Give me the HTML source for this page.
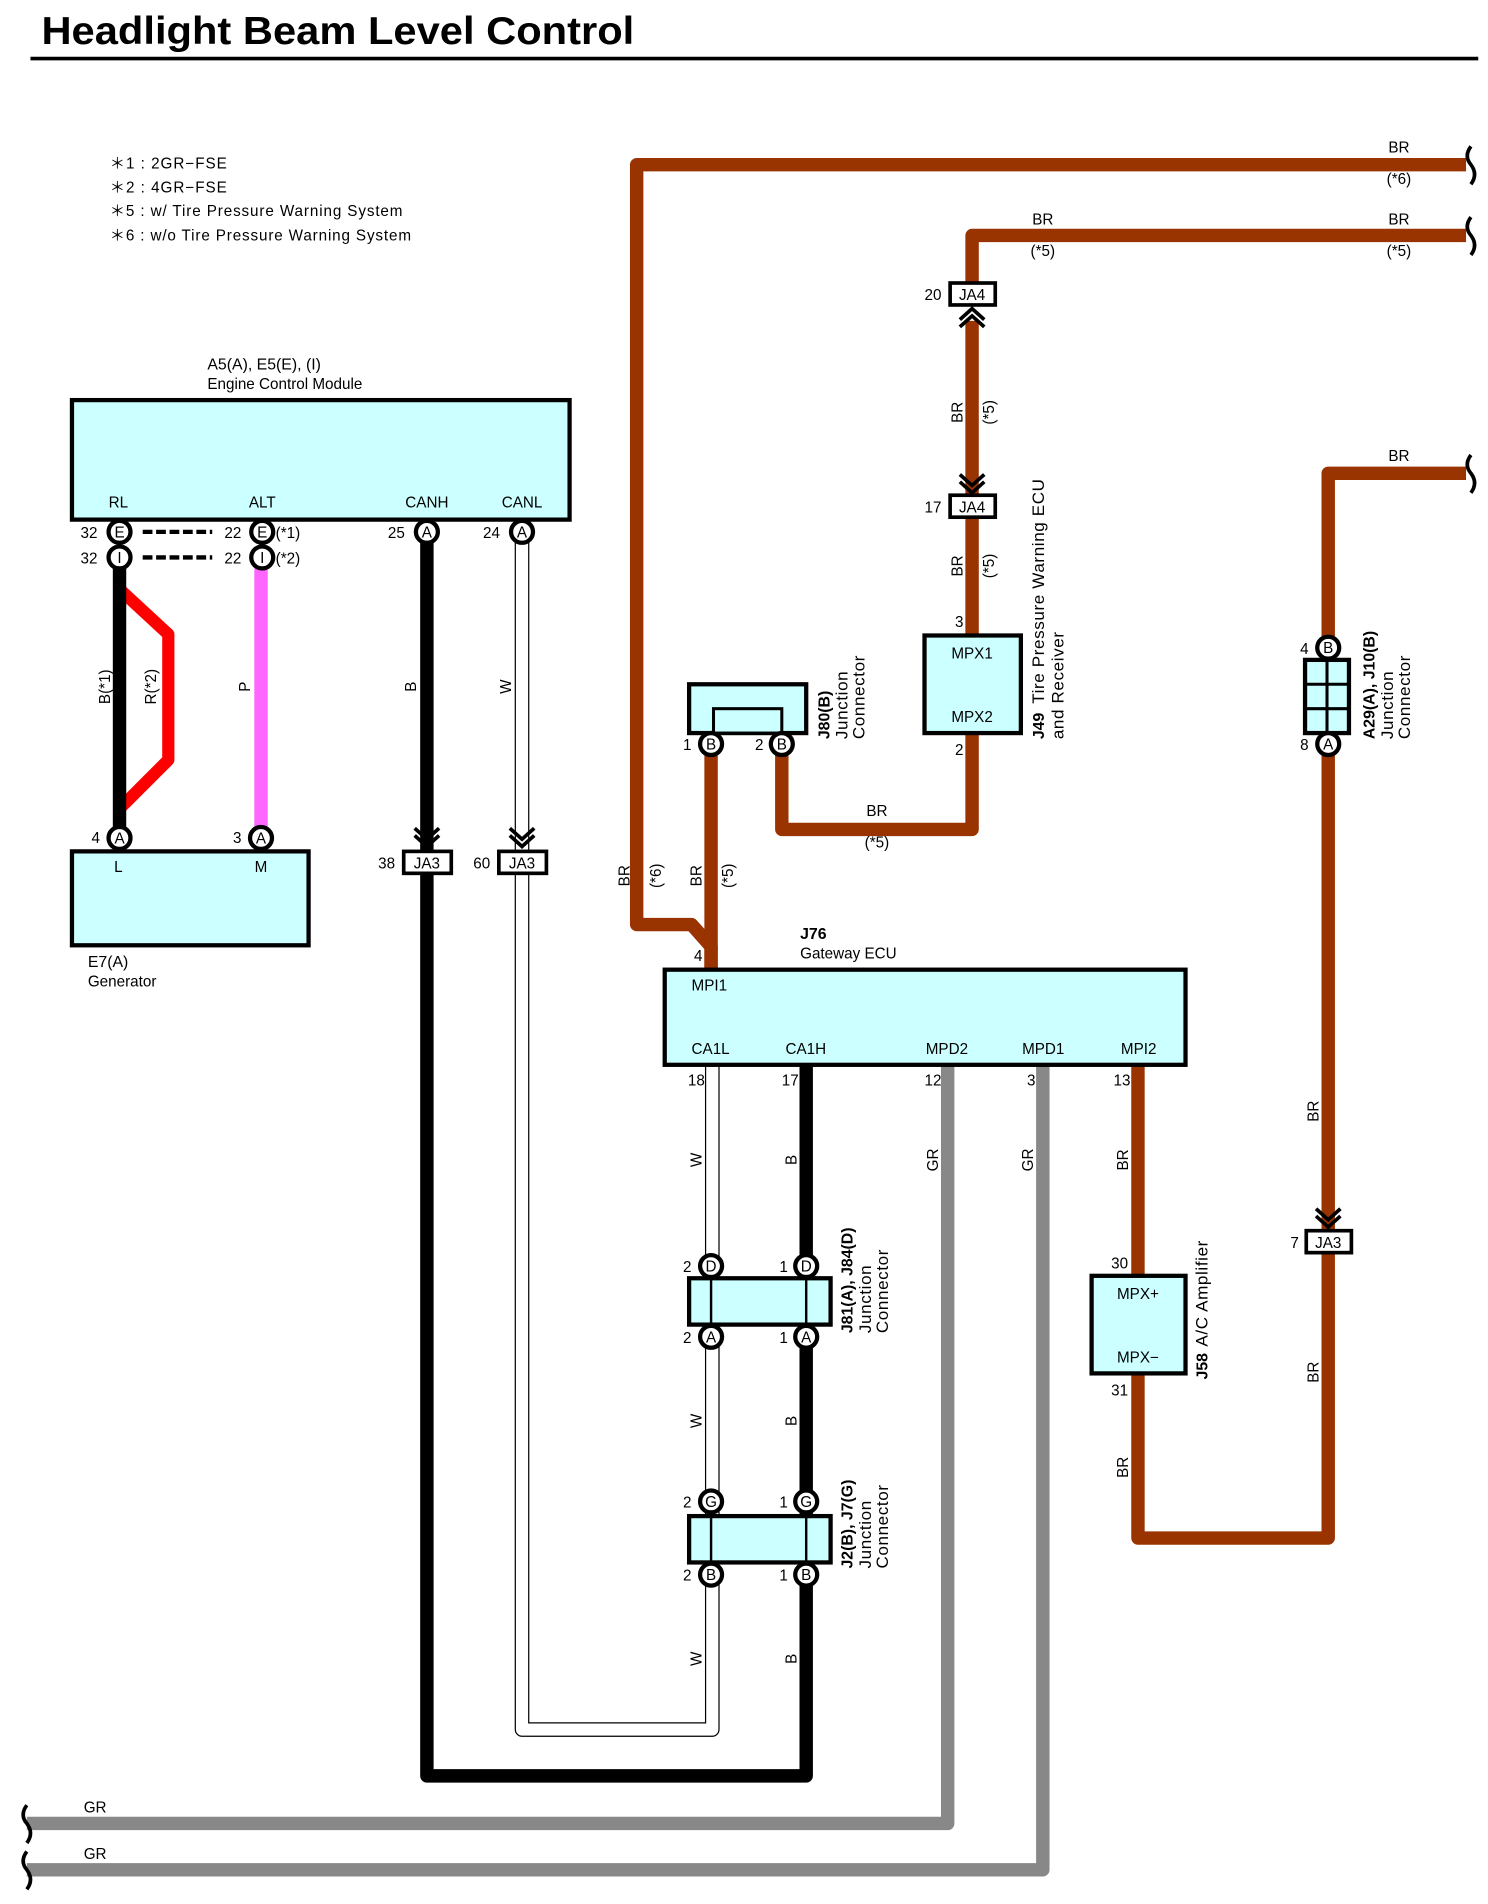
<!DOCTYPE html>
<html><head><meta charset="utf-8"><style>
html,body{margin:0;padding:0;background:#fff;}
svg{display:block;}
text{font-family:"Liberation Sans",sans-serif;font-size:12.5px;fill:#000;}
.b{font-weight:bold;}
.c{text-anchor:middle;}
</style></head><body>
<svg width="1488" height="1904" viewBox="0 0 1220 1561" xmlns="http://www.w3.org/2000/svg">
<defs>
<g id="pin"><circle r="9" fill="#fff" stroke="#000" stroke-width="3.5"/></g>
</defs>
<rect width="1220" height="1561" fill="#fff"/>
<g transform="translate(0,-2)">
<text x="34" y="38" class="b" style="font-size:32px" textLength="486" lengthAdjust="spacingAndGlyphs">Headlight Beam Level Control</text>
<line x1="25" y1="50" x2="1212" y2="50" stroke="#000" stroke-width="3"/>

<g style="font-size:13.5px">
<text x="90" y="140" textLength="96">＊1 : 2GR−FSE</text>
<text x="90" y="160" textLength="96">＊2 : 4GR−FSE</text>
<text x="90" y="179" textLength="240">＊5 : w/ Tire Pressure Warning System</text>
<text x="90" y="199" textLength="247">＊6 : w/o Tire Pressure Warning System</text>
</g>

<g fill="none" stroke-linejoin="round">
<path d="M1202 137 H522 V760 H567 L583 778 V797" stroke="#993300" stroke-width="11"/>
<path d="M1202 195 H797 V252" stroke="#993300" stroke-width="11"/>
<path d="M797 265 V408" stroke="#993300" stroke-width="11"/>
<path d="M797 427 V523" stroke="#993300" stroke-width="11"/>
<path d="M797 603 V682 H641 V612" stroke="#993300" stroke-width="11"/>
<path d="M583 612 V797" stroke="#993300" stroke-width="11"/>
<path d="M1202 390 H1089 V1011" stroke="#993300" stroke-width="11"/>
<path d="M1089 1029 V1263 H933 V875" stroke="#993300" stroke-width="11"/>
<path d="M98 485 L138 522 V625 L98 665" stroke="#ff0000" stroke-width="10"/>
<path d="M98 468 V680" stroke="#000" stroke-width="11"/>
<path d="M214 468 V680" stroke="#ff66ff" stroke-width="11"/>
<path d="M350 447 V699" stroke="#000" stroke-width="11"/>
<path d="M350 718 V1458 H661 V875" stroke="#000" stroke-width="11"/>
<path d="M428 447 V699" stroke="#000" stroke-width="12"/>
<path d="M428 447 V699" stroke="#fff" stroke-width="10"/>
<path d="M428 718 V1420 H584 V875" stroke="#000" stroke-width="12"/>
<path d="M428 718 V1420 H584 V875" stroke="#fff" stroke-width="10"/>
<path d="M777 875 V1497 H22" stroke="#888" stroke-width="11"/>
<path d="M855 875 V1535 H22" stroke="#888" stroke-width="11"/>
</g>

<g fill="none" stroke="#000" stroke-width="3">
<path d="M1206 122 q-6 8 0 15 q6 8 0 16"/>
<path d="M1206 180 q-6 8 0 15 q6 8 0 16"/>
<path d="M1206 375 q-6 8 0 15 q6 8 0 16"/>
<path d="M22 1482 q-6 8 0 15 q6 8 0 16"/>
<path d="M22 1520 q-6 8 0 15 q6 8 0 16"/>
</g>

<rect x="59" y="330" width="408" height="98" fill="#ccffff" stroke="#000" stroke-width="3.5"/>
<text x="170" y="305" style="font-size:13px">A5(A), E5(E), (I)</text>
<text x="170" y="321">Engine Control Module</text>
<text x="97" y="418" class="c">RL</text>
<text x="215" y="418" class="c">ALT</text>
<text x="350" y="418" class="c">CANH</text>
<text x="428" y="418" class="c">CANL</text>
<g stroke="#000" stroke-width="3.5" stroke-dasharray="8,3">
<line x1="117" y1="438" x2="174" y2="438"/><line x1="117" y1="459" x2="174" y2="459"/>
</g>
<use href="#pin" x="98" y="438"/><text x="98" y="442.5" class="c">E</text>
<use href="#pin" x="98" y="459"/><text x="98" y="463.5" class="c">I</text>
<use href="#pin" x="215" y="438"/><text x="215" y="442.5" class="c">E</text>
<use href="#pin" x="215" y="459"/><text x="215" y="463.5" class="c">I</text>
<use href="#pin" x="350" y="438"/><text x="350" y="442.5" class="c">A</text>
<use href="#pin" x="428" y="438"/><text x="428" y="442.5" class="c">A</text>
<text x="66" y="443">32</text><text x="66" y="464">32</text>
<text x="184" y="443">22</text><text x="184" y="464">22</text>
<text x="226" y="443">(*1)</text><text x="226" y="464">(*2)</text>
<text x="318" y="443">25</text><text x="396" y="443">24</text>

<text transform="translate(90,565) rotate(-90)" class="c">B(*1)</text>
<text transform="translate(128,565) rotate(-90)" class="c">R(*2)</text>
<text transform="translate(205,565) rotate(-90)" class="c">P</text>
<text transform="translate(341,565) rotate(-90)" class="c">B</text>
<text transform="translate(419,565) rotate(-90)" class="c">W</text>

<rect x="59" y="700" width="194" height="77" fill="#ccffff" stroke="#000" stroke-width="3.5"/>
<use href="#pin" x="98" y="689"/><text x="98" y="693.5" class="c">A</text>
<use href="#pin" x="214" y="689"/><text x="214" y="693.5" class="c">A</text>
<text x="75" y="693">4</text><text x="191" y="693">3</text>
<text x="97" y="717" class="c">L</text><text x="214" y="717" class="c">M</text>
<text x="72" y="795" style="font-size:13px">E7(A)</text>
<text x="72" y="811">Generator</text>

<g fill="none" stroke="#000" stroke-width="3">
<path d="M340 681 L350 690 L360 681 M340 687 L350 696 L360 687"/>
<path d="M418 681 L428 690 L438 681 M418 687 L428 696 L438 687"/>
<path d="M1079 993 L1089 1002 L1099 993 M1079 999 L1089 1008 L1099 999"/>
<path d="M787 391 L797 400 L807 391 M787 397 L797 406 L807 397"/>
<path d="M787 264 L797 255 L807 264 M787 270 L797 261 L807 270"/>
</g>
<g fill="#fff" stroke="#000" stroke-width="3">
<rect x="331" y="700" width="39" height="18"/>
<rect x="409" y="700" width="39" height="18"/>
<rect x="1071" y="1011" width="37" height="18"/>
<rect x="779" y="234" width="37" height="18"/>
<rect x="779" y="408" width="37" height="18"/>
</g>
<text x="350" y="714" class="c">JA3</text><text x="428" y="714" class="c">JA3</text>
<text x="1089" y="1025" class="c">JA3</text>
<text x="797" y="248" class="c">JA4</text><text x="797" y="422" class="c">JA4</text>
<text x="310" y="714">38</text><text x="388" y="714">60</text>
<text x="1058" y="1025">7</text>
<text x="758" y="248">20</text><text x="758" y="422">17</text>

<text x="1147" y="127" class="c">BR</text><text x="1147" y="153" class="c">(*6)</text>
<text x="855" y="186" class="c">BR</text><text x="855" y="212" class="c">(*5)</text>
<text x="1147" y="186" class="c">BR</text><text x="1147" y="212" class="c">(*5)</text>
<text x="1147" y="380" class="c">BR</text>
<text transform="translate(789,340) rotate(-90)" class="c">BR</text>
<text transform="translate(815,340) rotate(-90)" class="c">(*5)</text>
<text transform="translate(789,466) rotate(-90)" class="c">BR</text>
<text transform="translate(815,466) rotate(-90)" class="c">(*5)</text>
<text x="719" y="671" class="c">BR</text><text x="719" y="697" class="c">(*5)</text>
<text transform="translate(516,720) rotate(-90)" class="c">BR</text>
<text transform="translate(542,720) rotate(-90)" class="c">(*6)</text>
<text transform="translate(575,720) rotate(-90)" class="c">BR</text>
<text transform="translate(601,720) rotate(-90)" class="c">(*5)</text>

<rect x="758" y="523" width="79" height="80" fill="#ccffff" stroke="#000" stroke-width="3.5"/>
<text x="797" y="542" class="c">MPX1</text><text x="797" y="594" class="c">MPX2</text>
<text x="783" y="516">3</text><text x="783" y="621">2</text>
<g transform="translate(856,608) rotate(-90)">
<text x="0" y="0" class="b" style="font-size:13px">J49</text>
<text x="29" y="0" style="font-size:14px;letter-spacing:0.5px">Tire Pressure Warning ECU</text>
<text x="0" y="16" style="font-size:14px;letter-spacing:0.5px">and Receiver</text>
</g>

<rect x="565" y="563" width="96" height="40" fill="#ccffff" stroke="#000" stroke-width="3.5"/>
<rect x="585" y="583" width="56" height="20" fill="#ccffff" stroke="#000" stroke-width="2.5"/>
<use href="#pin" x="583" y="612"/><text x="583" y="616.5" class="c">B</text>
<use href="#pin" x="641" y="612"/><text x="641" y="616.5" class="c">B</text>
<text x="560" y="617">1</text><text x="619" y="617">2</text>
<g transform="translate(680,608) rotate(-90)">
<text x="0" y="0" class="b" style="font-size:13px">J80(B)</text>
<text x="0" y="15" style="font-size:14px;letter-spacing:0.5px">Junction</text>
<text x="0" y="29" style="font-size:14px;letter-spacing:0.5px">Connector</text>
</g>

<rect x="1070" y="543" width="36" height="60" fill="#ccffff" stroke="#000" stroke-width="3.5"/>
<g stroke="#000" stroke-width="2.5"><line x1="1088" y1="543" x2="1088" y2="603"/><line x1="1070" y1="563" x2="1106" y2="563"/><line x1="1070" y1="583" x2="1106" y2="583"/></g>
<use href="#pin" x="1089" y="533"/><text x="1089" y="537.5" class="c">B</text>
<use href="#pin" x="1089" y="612"/><text x="1089" y="616.5" class="c">A</text>
<text x="1066" y="538">4</text><text x="1066" y="617">8</text>
<g transform="translate(1127,608) rotate(-90)">
<text x="0" y="0" class="b" style="font-size:13px">A29(A), J10(B)</text>
<text x="0" y="15" style="font-size:14px;letter-spacing:0.5px">Junction</text>
<text x="0" y="29" style="font-size:14px;letter-spacing:0.5px">Connector</text>
</g>

<text x="656" y="772" class="b" style="font-size:13px">J76</text>
<text x="656" y="788">Gateway ECU</text>
<rect x="545" y="797" width="427" height="78" fill="#ccffff" stroke="#000" stroke-width="3.5"/>
<text x="567" y="814">MPI1</text>
<text x="567" y="866">CA1L</text><text x="644" y="866">CA1H</text>
<text x="759" y="866">MPD2</text><text x="838" y="866">MPD1</text><text x="919" y="866">MPI2</text>
<text x="569" y="790">4</text>
<text x="564" y="892">18</text><text x="641" y="892">17</text><text x="758" y="892">12</text><text x="842" y="892">3</text><text x="913" y="892">13</text>
<text transform="translate(575,953) rotate(-90)" class="c">W</text>
<text transform="translate(653,953) rotate(-90)" class="c">B</text>
<text transform="translate(769,953) rotate(-90)" class="c">GR</text>
<text transform="translate(847,953) rotate(-90)" class="c">GR</text>
<text transform="translate(925,953) rotate(-90)" class="c">BR</text>
<text transform="translate(575,1167) rotate(-90)" class="c">W</text>
<text transform="translate(653,1167) rotate(-90)" class="c">B</text>
<text transform="translate(575,1362) rotate(-90)" class="c">W</text>
<text transform="translate(653,1362) rotate(-90)" class="c">B</text>
<text transform="translate(925,1205) rotate(-90)" class="c">BR</text>
<text transform="translate(1081,913) rotate(-90)" class="c">BR</text>
<text transform="translate(1081,1127) rotate(-90)" class="c">BR</text>
<text x="78" y="1488" class="c">GR</text><text x="78" y="1526" class="c">GR</text>

<rect x="565" y="1050" width="116" height="38" fill="#ccffff" stroke="#000" stroke-width="3.5"/>
<g stroke="#000" stroke-width="2"><line x1="583" y1="1050" x2="583" y2="1088"/><line x1="661" y1="1050" x2="661" y2="1088"/></g>
<use href="#pin" x="583" y="1040"/><text x="583" y="1044.5" class="c">D</text>
<use href="#pin" x="661" y="1040"/><text x="661" y="1044.5" class="c">D</text>
<use href="#pin" x="583" y="1098"/><text x="583" y="1102.5" class="c">A</text>
<use href="#pin" x="661" y="1098"/><text x="661" y="1102.5" class="c">A</text>
<text x="560" y="1045">2</text><text x="639" y="1045">1</text><text x="560" y="1103">2</text><text x="639" y="1103">1</text>
<g transform="translate(699,1095) rotate(-90)">
<text x="0" y="0" class="b" style="font-size:13px">J81(A), J84(D)</text>
<text x="0" y="15" style="font-size:14px;letter-spacing:0.5px">Junction</text>
<text x="0" y="29" style="font-size:14px;letter-spacing:0.5px">Connector</text>
</g>

<rect x="565" y="1245" width="116" height="38" fill="#ccffff" stroke="#000" stroke-width="3.5"/>
<g stroke="#000" stroke-width="2"><line x1="583" y1="1245" x2="583" y2="1283"/><line x1="661" y1="1245" x2="661" y2="1283"/></g>
<use href="#pin" x="583" y="1233"/><text x="583" y="1237.5" class="c">G</text>
<use href="#pin" x="661" y="1233"/><text x="661" y="1237.5" class="c">G</text>
<use href="#pin" x="583" y="1293"/><text x="583" y="1297.5" class="c">B</text>
<use href="#pin" x="661" y="1293"/><text x="661" y="1297.5" class="c">B</text>
<text x="560" y="1238">2</text><text x="639" y="1238">1</text><text x="560" y="1298">2</text><text x="639" y="1298">1</text>
<g transform="translate(699,1288) rotate(-90)">
<text x="0" y="0" class="b" style="font-size:13px">J2(B), J7(G)</text>
<text x="0" y="15" style="font-size:14px;letter-spacing:0.5px">Junction</text>
<text x="0" y="29" style="font-size:14px;letter-spacing:0.5px">Connector</text>
</g>

<rect x="895" y="1048" width="77" height="80" fill="#ccffff" stroke="#000" stroke-width="3.5"/>
<text x="933" y="1067" class="c">MPX+</text><text x="933" y="1119" class="c">MPX−</text>
<text x="911" y="1042">30</text><text x="911" y="1146">31</text>
<g transform="translate(990,1133) rotate(-90)">
<text x="0" y="0" class="b" style="font-size:13px">J58</text>
<text x="27" y="0" style="font-size:14px;letter-spacing:0.5px">A/C Amplifier</text>
</g>
</g>
</svg>
</body></html>
